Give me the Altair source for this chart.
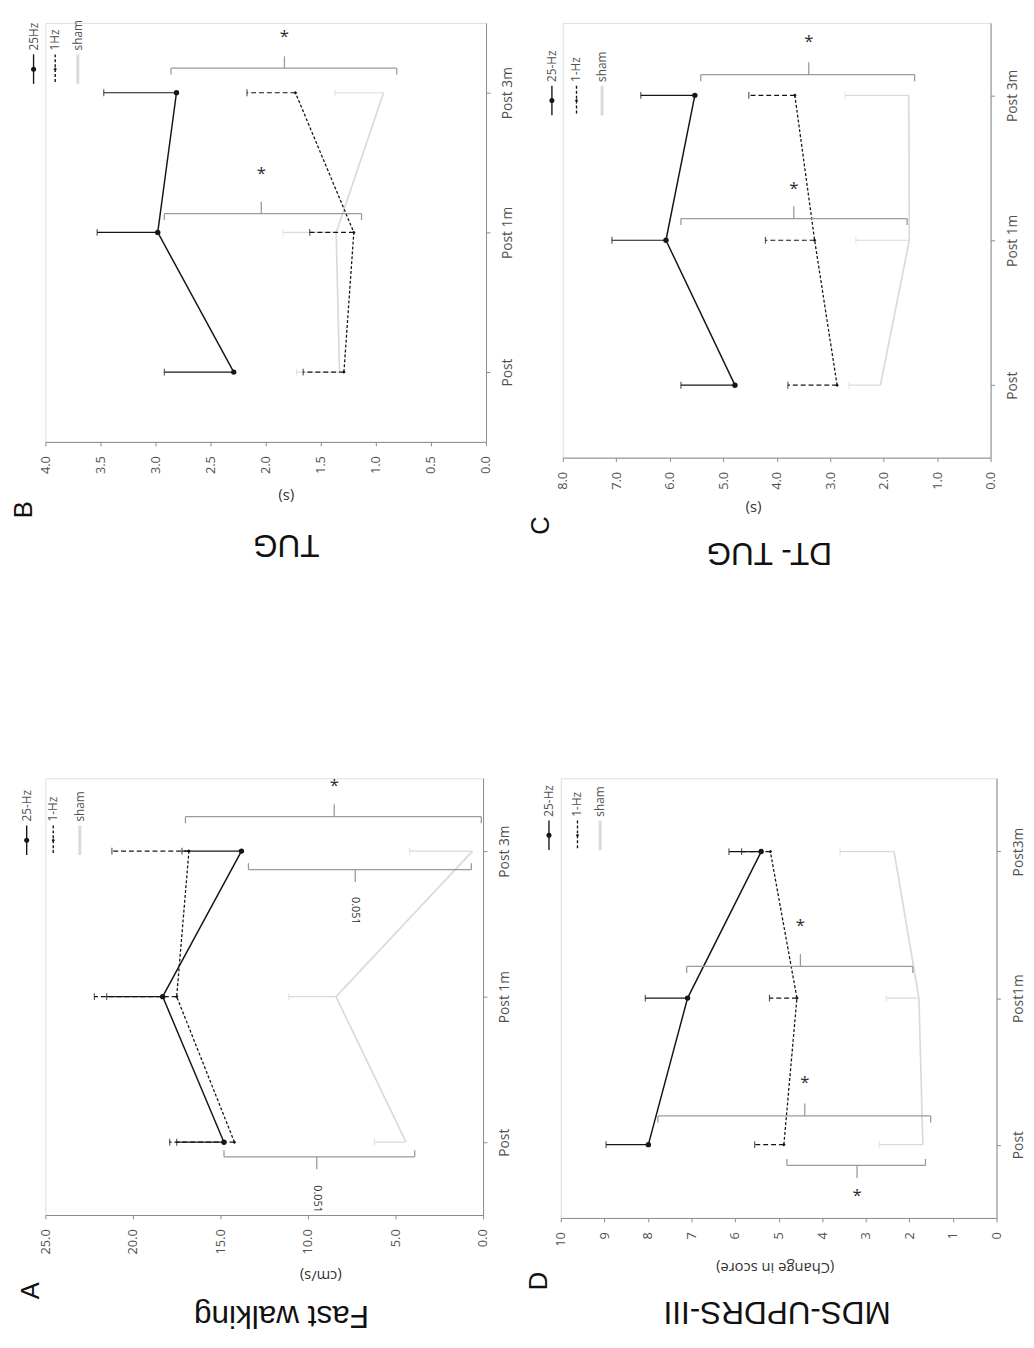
import altair as alt
import pandas as pd
import numpy as np

# ---------------- values ----------------
cats_main = ["Post", "Post 1m", "Post 3m"]
cats_mds = ["Post", "Post1m", "Post3m"]

# B  TUG (s)
b_25 = [2.29, 2.98, 2.81]
b_25_err = [2.92, 3.53, 3.47]
b_1 = [1.29, 1.20, 1.73]
b_1_err = [1.66, 1.60, 2.17]
b_sham = [1.33, 1.36, 0.93]
b_sham_err = [1.72, 1.84, 1.37]
b_ticks = [0.0, 0.5, 1.0, 1.5, 2.0, 2.5, 3.0, 3.5, 4.0]
b_br_cat = [1, 2]
b_br_lo = [1.13, 0.81]
b_br_hi = [2.92, 2.86]
b_br_nub = [2.04, 1.83]
b_br_lab = ["*", "*"]

# C  DT-TUG (s)
c_25 = [4.78, 6.07, 5.53]
c_25_err = [5.79, 7.08, 6.54]
c_1 = [2.87, 3.29, 3.66]
c_1_err = [3.79, 4.21, 4.52]
c_sham = [2.06, 1.52, 1.53]
c_sham_err = [2.65, 2.52, 2.72]
c_ticks = [0, 1, 2, 3, 4, 5, 6, 7, 8]
c_br_cat = [1, 2]
c_br_lo = [1.56, 1.42]
c_br_hi = [5.79, 5.42]
c_br_nub = [3.68, 3.40]
c_br_lab = ["*", "*"]

# A  Fast walking (cm/s)
a_25 = [14.8, 18.3, 13.8]
a_25_err = [17.5, 21.5, 17.2]
a_1 = [14.2, 17.5, 16.8]
a_1_err = [17.9, 22.2, 21.2]
a_sham = [4.4, 8.4, 0.6]
a_sham_err = [6.2, 11.1, 4.2]
a_ticks = [0, 5, 10, 15, 20, 25]
a_br_cat = [0, 2, 2]
a_br_lo = [3.9, 0.1, 0.67]
a_br_hi = [14.8, 17.0, 13.4]
a_br_nub = [9.5, 8.5, 7.3]
a_br_lab = ["0.051", "*", "0.051"]

# D  MDS-UPDRS-III (change in score)
d_25 = [7.99, 7.09, 5.40]
d_25_err = [8.96, 8.06, 6.14]
d_1 = [4.88, 4.58, 5.19]
d_1_err = [5.55, 5.21, 5.85]
d_sham = [1.69, 1.78, 2.35]
d_sham_err = [2.69, 2.53, 3.59]
d_ticks = [0, 1, 2, 3, 4, 5, 6, 7, 8, 9, 10]
d_br_cat = [0, 0, 1]
d_br_lo = [1.63, 1.51, 1.92]
d_br_hi = [4.81, 7.77, 7.11]
d_br_nub = [3.2, 4.4, 4.5]
d_br_lab = ["*", "*", "*"]

# ---------------- styling ----------------
FONT = "Open Sans"
TFONT = "Liberation Sans"
INK = "#161616"
SHAM = "#dadada"
BRC = "#9a9a9a"
AXC = "#8a8a8a"
LBC = "#505050"

STY = {
    "25": dict(color=INK, sw=1.5, dash=None, edash=None),
    "1": dict(color=INK, sw=1.3, dash=[3, 2], edash=[5, 3]),
    "sham": dict(color=SHAM, sw=1.7, dash=None, edash=None),
}


def panel(P):
    w, h = P["w"], P["h"]
    xs = alt.Scale(domain=[0, P["max"]], reverse=True, nice=False, zero=False)
    ys = alt.Scale(domain=[-0.5, 2.5], nice=False, zero=False)
    c = P["cats"]
    lexpr = "datum.value == 0 ? '%s' : (datum.value == 1 ? '%s' : '%s')" % tuple(c)
    xax = alt.Axis(values=P["ticks"], format=P["fmt"], labelAngle=270, labelAlign="right",
                   labelBaseline="middle", labelPadding=10, tickSize=4, grid=False, title=None,
                   domainColor=AXC, tickColor=AXC, labelColor=LBC, labelFont=FONT,
                   labelFontSize=13, labelFlush=False, labelOverlap=False)
    yax = alt.Axis(orient="right", values=[0, 1, 2], labelExpr=lexpr, labelAngle=270,
                   labelAlign="center", labelBaseline="top", labelPadding=11, tickSize=4,
                   grid=False, title=None, domainColor=AXC, tickColor=AXC, labelColor=LBC,
                   labelFont=FONT, labelFontSize=14, labelFlush=False, labelOverlap=False)

    def X(f):
        return alt.X(f + ":Q", scale=xs, axis=xax)

    def Y(f):
        return alt.Y(f + ":Q", scale=ys, axis=yax)

    rows = []
    for g, m, e in (("25", P["m25"], P["e25"]), ("1", P["m1"], P["e1"]), ("sham", P["ms"], P["es"])):
        for i in range(3):
            rows.append({"cat": i, "g": g, "mean": m[i], "err": e[i]})
    df = pd.DataFrame(rows)
    base = alt.Chart(df)
    layers = []
    for g in ["sham", "1", "25"]:
        s = STY[g]
        sub = base.transform_filter(alt.datum.g == g)
        rk = dict(color=s["color"], strokeWidth=1.2)
        if s["edash"]:
            rk["strokeDash"] = s["edash"]
        layers.append(sub.mark_rule(**rk).encode(x=X("mean"), x2="err", y=Y("cat")))
        layers.append(sub.mark_tick(orient="vertical", size=7, thickness=1.2, color=s["color"])
                      .encode(x=X("err"), y=Y("cat")))
        lk = dict(color=s["color"], strokeWidth=s["sw"])
        if s["dash"]:
            lk["strokeDash"] = s["dash"]
        layers.append(sub.mark_line(**lk).encode(x=X("mean"), y=Y("cat"), order="cat:Q"))
        if g == "25":
            layers.append(sub.mark_point(filled=True, size=30, color=INK, opacity=1)
                          .encode(x=X("mean"), y=Y("cat")))
        elif g == "1":
            layers.append(sub.mark_point(filled=True, size=13, shape="diamond", color=INK, opacity=1)
                          .encode(x=X("mean"), y=Y("cat")))

    # significance brackets
    off = np.array(P["br_off"], dtype=float)
    sg = np.sign(off)
    br = pd.DataFrame({
        "cat": P["br_cat"], "lo": P["br_lo"], "hi": P["br_hi"], "nub": P["br_nub"],
        "lab": P["br_lab"],
    })
    br["y"] = br["cat"] + off
    br["yh"] = br["y"] - sg * 0.045
    br["yn"] = br["y"] + sg * 0.085
    br["yl"] = br["cat"] + np.array(P["br_loff"], dtype=float)
    br["ang"] = [0 if l == "*" else 90 for l in P["br_lab"]]
    br["fs"] = [17 if l == "*" else 11 for l in P["br_lab"]]
    bb = alt.Chart(br)
    layers.append(bb.mark_rule(color=BRC, strokeWidth=1.3).encode(x=X("lo"), x2="hi", y=Y("y")))
    layers.append(bb.mark_rule(color=BRC, strokeWidth=1.3).encode(x=X("lo"), y=Y("y"), y2="yh"))
    layers.append(bb.mark_rule(color=BRC, strokeWidth=1.3).encode(x=X("hi"), y=Y("y"), y2="yh"))
    layers.append(bb.mark_rule(color=BRC, strokeWidth=1.3).encode(x=X("nub"), y=Y("y"), y2="yn"))
    layers.append(bb.mark_text(font=FONT, color="#2a2a2a", align="center", baseline="middle")
                  .encode(x=X("nub"), y=Y("yl"), text="lab:N",
                          angle=alt.Angle("ang:Q", scale=None),
                          size=alt.Size("fs:Q", scale=None, legend=None)))

    # legend (rotated, drawn as marks)
    cy = P["lgy"]
    for k, g in enumerate(["25", "1", "sham"]):
        lx = P["lgx"][k]
        s = STY[g]
        d = pd.DataFrame({"t": [P["leg"][k]]})
        rk = dict(color=s["color"], strokeWidth=(3 if g == "sham" else 1.4))
        if s["dash"]:
            rk["strokeDash"] = [3, 2]
        layers.append(alt.Chart(d).mark_rule(**rk)
                      .encode(x=alt.value(lx), y=alt.value(cy - 15), y2=alt.value(cy + 15)))
        if g != "sham":
            layers.append(alt.Chart(d).mark_point(filled=True, size=(26 if g == "25" else 12),
                                                  shape=("circle" if g == "25" else "diamond"),
                                                  color=INK, opacity=1)
                          .encode(x=alt.value(lx), y=alt.value(cy)))
        layers.append(alt.Chart(d).mark_text(angle=270, align="left", baseline="middle", font=FONT,
                                             fontSize=12, color=LBC)
                      .encode(x=alt.value(lx), y=alt.value(cy - 19), text="t:N"))

    # titles
    def label(text, x, y, size, ang, font, color):
        return alt.Chart(pd.DataFrame({"t": [text]})).mark_text(
            angle=ang, fontSize=size, font=font, color=color, align="center", baseline="middle"
        ).encode(x=alt.value(x), y=alt.value(y), text="t:N")

    layers.append(label(P["unit"], P["ux"], h + P["uy"], 15, 180, FONT, "#333333"))
    layers.append(label(P["title"], P["tx"], h + P["ty"], 32, 180, TFONT, "#111111"))
    layers.append(label(P["letter"], P["ltx"], h + P["lty"], 26, 270, TFONT, "#111111"))

    return alt.layer(*layers).properties(width=w, height=h)


PB = dict(w=448, h=426, max=4.0, ticks=b_ticks, fmt=".1f", cats=cats_main,
          m25=b_25, e25=b_25_err, m1=b_1, e1=b_1_err, ms=b_sham, es=b_sham_err,
          br_cat=b_br_cat, br_lo=b_br_lo, br_hi=b_br_hi, br_nub=b_br_nub, br_lab=b_br_lab,
          br_off=[0.134, 0.176], br_loff=[0.415, 0.40],
          leg=["25Hz", "1Hz", "sham"], lgx=[-12, 10, 33], lgy=47,
          unit="(s)", ux=245, uy=56, title="TUG", tx=245, ty=105,
          letter="B", ltx=-22, lty=69)

PC = dict(w=435, h=442, max=8.0, ticks=c_ticks, fmt=".1f", cats=cats_main,
          m25=c_25, e25=c_25_err, m1=c_1, e1=c_1_err, ms=c_sham, es=c_sham_err,
          br_cat=c_br_cat, br_lo=c_br_lo, br_hi=c_br_hi, br_nub=c_br_nub, br_lab=c_br_lab,
          br_off=[0.15, 0.143], br_loff=[0.35, 0.37],
          leg=["25-Hz", "1-Hz", "sham"], lgx=[-11, 14, 40], lgy=79,
          unit="(s)", ux=194, uy=52, title="DT- TUG", tx=210, ty=97,
          letter="C", ltx=-22, lty=69)

PA = dict(w=445, h=444, max=25.0, ticks=a_ticks, fmt=".1f", cats=cats_main,
          m25=a_25, e25=a_25_err, m1=a_1, e1=a_1_err, ms=a_sham, es=a_sham_err,
          br_cat=a_br_cat, br_lo=a_br_lo, br_hi=a_br_hi, br_nub=a_br_nub, br_lab=a_br_lab,
          br_off=[-0.10, 0.236, -0.128], br_loff=[-0.39, 0.446, -0.41],
          leg=["25-Hz", "1-Hz", "sham"], lgx=[-19, 8, 35], lgy=63,
          unit="(cm/s)", ux=280, uy=62, title="Fast walking", tx=240, ty=103,
          letter="A", ltx=-14, lty=77)

PD = dict(w=443, h=447, max=10.0, ticks=d_ticks, fmt="d", cats=cats_mds,
          m25=d_25, e25=d_25_err, m1=d_1, e1=d_1_err, ms=d_sham, es=d_sham_err,
          br_cat=d_br_cat, br_lo=d_br_lo, br_hi=d_br_hi, br_nub=d_br_nub, br_lab=d_br_lab,
          br_off=[-0.142, 0.196, 0.216], br_loff=[-0.35, 0.42, 0.49],
          leg=["25-Hz", "1-Hz", "sham"], lgx=[-12, 17, 40], lgy=58,
          unit="(Change in score)", ux=218, uy=51, title="MDS-UPDRS-III", tx=220, ty=95,
          letter="D", ltx=-22, lty=64)

top = alt.hconcat(panel(PB), panel(PC), spacing=12)
bottom = alt.hconcat(panel(PA), panel(PD), spacing=13)
chart = alt.vconcat(top, bottom, spacing=210).properties(
    padding={"left": 2, "top": 0, "right": 0, "bottom": 0}
).configure_view(strokeWidth=0).configure(background="white")

chart.save("out.html", embed_options={"renderer": "svg", "actions": False})
